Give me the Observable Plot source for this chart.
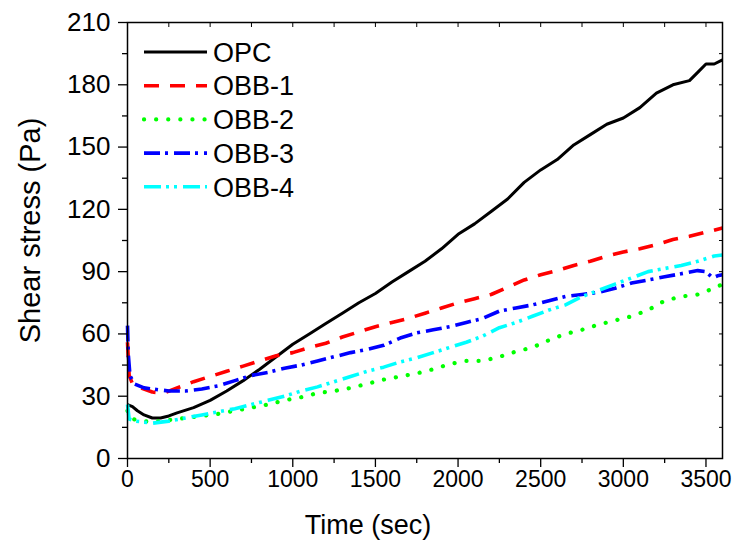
<!DOCTYPE html>
<html>
<head>
<meta charset="utf-8">
<script src="https://cdn.jsdelivr.net/npm/d3@7"></script>
<script src="https://cdn.jsdelivr.net/npm/@observablehq/plot@0.6"></script>
<style>
  html, body { margin: 0; padding: 0; background: #fff; }
  #chart { width: 736px; height: 552px; }
  svg { font-family: "Liberation Sans", Arial, sans-serif; }
</style>
</head>
<body>
<div id="chart"></div>
<script>
// ---- data ----
const seriesNames = ["OPC", "OBB-1", "OBB-2", "OBB-3", "OBB-4"];
const seriesColors = ["#000000", "#ff0000", "#00ff00", "#0000ff", "#00ffff"];

const opcTime = [0,30,60,100,150,200,250,300,400,500,600,700,800,900,1000,1100,1200,1300,1400,1500,1600,1700,1800,1900,2000,2100,2200,2300,2400,2500,2600,2700,2800,2900,3000,3100,3200,3300,3400,3450,3500,3550,3600];
const opcStress = [26,25,23,21,19.5,19.5,20.5,22,24.5,28,32.5,37.5,43,49,55,60,65,70,75,79.5,85,90,95,101,108,113,119,125,133,139,144,151,156,161,164,169,176,180,182,186,190,190,192];

const obb1Time = [0,10,30,80,150,220,300,400,500,600,700,800,900,1000,1100,1200,1300,1400,1500,1600,1700,1800,1900,2000,2100,2200,2300,2400,2500,2600,2700,2800,2900,3000,3100,3200,3300,3400,3500,3600];
const obb1Stress = [56,40,36,34,32,31.5,34,37,39.5,42,44.5,47,49.5,51,53.5,55.5,58.5,61,63.5,65.5,67.5,70,72.5,75,77,79,82.5,86,88.5,90.5,93,95,97.5,99.5,101,103,105.5,107,109,111];

const obb2Time = [0,10,50,150,250,350,450,550,650,750,850,950,1050,1150,1250,1350,1450,1550,1650,1750,1850,1950,2050,2150,2250,2350,2450,2550,2650,2750,2850,2950,3050,3150,3250,3350,3450,3550,3600];
const obb2Stress = [23,20,18.5,17.5,18.5,19.5,20.5,21.5,23,24.5,26,28,29.5,31.5,32.5,34,36,38,39.5,41,43,45.5,47,47,49,51.5,53.5,57,60,62,64.5,66.5,68.5,71.5,76,78,79,82,84];

const obb3Time = [0,5,15,40,100,150,250,350,450,550,650,750,850,950,1050,1150,1250,1350,1450,1550,1650,1750,1850,1950,2050,2150,2250,2350,2450,2550,2650,2750,2850,2950,3050,3150,3250,3350,3450,3500,3540,3570,3600];
const obb3Stress = [64,50,40,36,34,33.5,32.5,32.5,33.5,35,37.5,40,41.5,43.5,45,47,49,51,52.5,54.5,58,60.5,62,63.5,65.5,67.5,71,72.5,74,76,78,79,80,82,84.5,86,87.5,89,90.5,90,87,88,88.5];

const obb4Time = [0,10,50,150,250,350,450,550,650,750,850,950,1050,1150,1250,1350,1450,1550,1650,1750,1850,1950,2050,2150,2250,2350,2450,2550,2650,2750,2850,2950,3050,3150,3250,3350,3450,3550,3600];
const obb4Stress = [26,19,18,17,18,19.5,21,22.5,24,26,28,30,32.5,34.5,37,39.5,42,44,46.5,48.5,51,53.5,56,59,63,65.5,68.5,71.5,74,78,81,84,87,90,91.5,93,95,97.5,98];

const yTicks = [0,30,60,90,120,150,180,210];
const xTicks = [0,500,1000,1500,2000,2500,3000,3500];

// ---- build tables ----
const times = [opcTime, obb1Time, obb2Time, obb3Time, obb4Time];
const stresses = [opcStress, obb1Stress, obb2Stress, obb3Stress, obb4Stress];
const tables = times.map((ts, i) => ts.map((t, j) => ({t, v: stresses[i][j], s: seriesNames[i]})));

const dashes = [null, "15,11", "0.1,12", "16,5,3,6", "17,5,3,5,3,6"];
const widths = [3, 3.6, 4.2, 3.6, 3.6];
const caps = ["butt", "butt", "round", "butt", "butt"];

const xMinor = d3.range(250, 3600, 500);
const yMinor = d3.range(15, 210, 30);
const font = "'Liberation Sans', Arial, sans-serif";

const plot = Plot.plot({
  width: 736,
  height: 552,
  marginLeft: 127,
  marginRight: 14,
  marginTop: 22,
  marginBottom: 94,
  style: {fontFamily: font, color: "#000", background: "#fff"},
  x: {domain: [0, 3600]},
  y: {domain: [0, 210]},
  marks: [
    ...tables.map((tb, i) => Plot.line(tb, {
      x: "t", y: "v", stroke: seriesColors[i], strokeWidth: widths[i],
      strokeDasharray: dashes[i], strokeLinecap: caps[i], strokeLinejoin: "round"
    })),
    Plot.frame({stroke: "#000", strokeWidth: 1.5}),
    Plot.axisY({ticks: yTicks, tickSize: 9, tickPadding: 8, fontSize: 26, label: null, strokeWidth: 1.3, tickFormat: d => String(d)}),
    Plot.axisY({ticks: yMinor, tickSize: 5, text: null, label: null, strokeWidth: 1.3}),
    Plot.axisY({anchor: "right", ticks: d3.range(0, 211, 15), tickSize: -4, text: null, label: null}),
    Plot.axisX({ticks: xTicks, tickSize: 9, tickPadding: 3, fontSize: 23, label: null, strokeWidth: 1.3, tickFormat: d => String(d)}),
    Plot.axisX({ticks: xMinor, tickSize: 5, text: null, label: null, strokeWidth: 1.3}),
    Plot.axisX({anchor: "top", ticks: d3.range(0, 3601, 250), tickSize: -4, text: null, label: null}),
    Plot.text(["Time (sec)"], {frameAnchor: "bottom", dy: 75, dx: -57, fontSize: 27, fill: "#000", textAnchor: "middle"}),
    Plot.text(["Shear stress (Pa)"], {frameAnchor: "left", dx: -97, dy: -10, rotate: -90, fontSize: 29, fill: "#000", textAnchor: "middle"})
  ]
});

document.getElementById("chart").appendChild(plot);

// ---- legend drawn inside the plot frame ----
const svg = d3.select(plot);
const lg = svg.append("g").attr("class", "legend");
seriesNames.forEach((name, i) => {
  const yy = 52 + i * 33.7;
  lg.append("line")
    .attr("x1", 144).attr("x2", 207).attr("y1", yy).attr("y2", yy)
    .attr("stroke", seriesColors[i]).attr("stroke-width", widths[i])
    .attr("stroke-dasharray", dashes[i]).attr("stroke-linecap", caps[i]);
  lg.append("text")
    .attr("x", 213).attr("y", yy).attr("dy", "0.36em")
    .attr("text-anchor", "start")
    .attr("font-size", 27).attr("fill", "#000")
    .attr("font-family", font)
    .text(name);
});
</script>
</body>
</html>
